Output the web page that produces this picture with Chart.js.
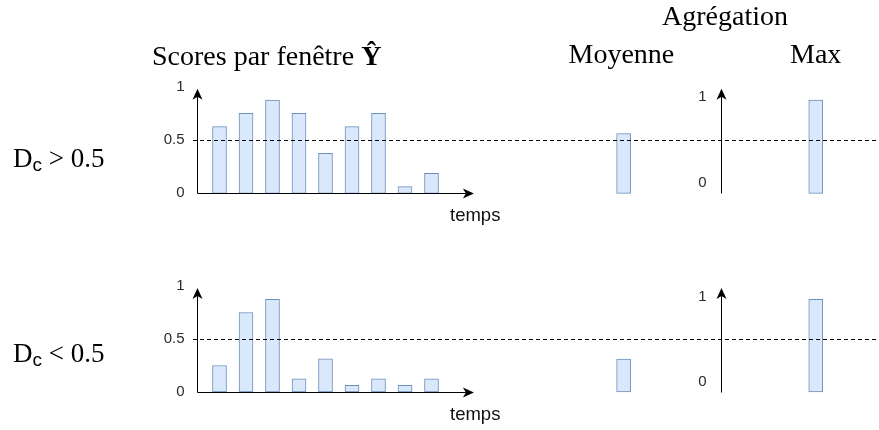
<!DOCTYPE html>
<html><head><meta charset="utf-8">
<script src="https://cdn.jsdelivr.net/npm/chart.js@4/dist/chart.umd.min.js"></script>
<style>
html,body{margin:0;padding:0;background:#fff;}
#wrap{position:relative;width:879px;height:430px;overflow:hidden;background:#fff;}
#c{position:absolute;left:0;top:0;}
.t{position:absolute;white-space:nowrap;font-family:"Liberation Serif","Times New Roman",serif;font-size:28px;line-height:28px;color:#000;}
.d{position:absolute;white-space:nowrap;font-family:"Liberation Serif","Times New Roman",serif;font-size:27px;line-height:27px;color:#000;}
.d .sub{font-family:"Liberation Sans",Arial,sans-serif;font-size:19px;position:relative;top:4px;}
.s{position:absolute;white-space:nowrap;font-family:"Liberation Sans",Arial,sans-serif;font-size:18.5px;line-height:18.5px;color:#111;}
</style></head>
<body><div id="wrap"><canvas id="c" width="879" height="430"></canvas></div>
<script>
// ---- data ----
const timeSteps = ['1','2','3','4','5','6','7','8','9'];
const windowScoresHigh = [0.625, 0.75, 0.875, 0.75, 0.375, 0.625, 0.75, 0.0625, 0.1875];
const windowScoresLow  = [0.25, 0.75, 0.875, 0.125, 0.3125, 0.0625, 0.125, 0.0625, 0.125];
const aggregations = ['Moyenne', 'Max'];
const aggHigh = [0.56, 0.875];
const aggLow  = [0.31, 0.875];
const threshold = 0.5;
const windowTickValues = [0, 0.5, 1];
const windowTickLabels = ['0', '0.5', '1'];
const aggTickLabels = ['0', '1'];
const rowLabelsOp = ['>', '<'];
const rowLabelValue = '0.5';
const titleWindows = 'Scores par fenêtre ';
const titleHat = 'Ŷ';
const titleAgg = 'Agrégation';
const timeLabel = 'temps';

// ---- layout constants ----
const WIN_AXIS_X = 0.14, TIME_TIP_X = 10.6, AGG_AXIS_X = 19.92;
const AGG_X = [16.25, 23.5];
const AXIS_TOP = 0.98;
const AGG_TICK_POS = [0.1, 0.9];

const wrap = document.getElementById('wrap');
function addText(cls, left, top, html){
  const d = document.createElement('div'); d.className = cls;
  d.style.left = left + 'px'; d.style.top = top + 'px'; d.innerHTML = html; wrap.appendChild(d);
}
addText('t', 662, 1.5, titleAgg);
addText('t', 152, 41.5, titleWindows + '<b>' + titleHat + '</b>');
addText('t', 568.5, 40, aggregations[0]);
addText('t', 790, 40, aggregations[1]);
addText('d', 13, 145, 'D<span class="sub">c</span> ' + rowLabelsOp[0] + ' ' + rowLabelValue);
addText('d', 13, 340, 'D<span class="sub">c</span> ' + rowLabelsOp[1] + ' ' + rowLabelValue);
addText('s', 450, 206, timeLabel);
addText('s', 450, 405, timeLabel);

const winPts = arr => arr.map((v, i) => ({x: i + 1, y: v}));
const aggPts = arr => arr.map((v, i) => ({x: AGG_X[i], y: v}));

const barStyle = {
  backgroundColor: '#dae8fc', borderColor: '#6c8ebf', borderWidth: 1,
  borderSkipped: false, barThickness: 14, grouped: false
};

function arrow(ctx, x1, y1, x2, y2){
  const ang = Math.atan2(y2 - y1, x2 - x1);
  const len = 11, half = 5, notch = 3;
  ctx.beginPath(); ctx.moveTo(x1, y1);
  ctx.lineTo(x2 - Math.cos(ang) * (len - notch), y2 - Math.sin(ang) * (len - notch));
  ctx.stroke();
  ctx.save(); ctx.translate(x2, y2); ctx.rotate(ang);
  ctx.beginPath(); ctx.moveTo(0, 0); ctx.lineTo(-len, -half); ctx.lineTo(-len + notch, 0); ctx.lineTo(-len, half);
  ctx.closePath(); ctx.fill(); ctx.restore();
}

const diagram = {
  id: 'diagram',
  afterDatasetsDraw(chart){
    const ctx = chart.ctx, xs = chart.scales.x;
    ['y1', 'y2'].forEach(id => {
      const ys = chart.scales[id];
      const snap = p => Math.round(p) + 0.5;
      const y0 = snap(ys.getPixelForValue(0));
      const yTop = ys.getPixelForValue(AXIS_TOP);
      const xl = snap(xs.getPixelForValue(WIN_AXIS_X));
      const xr = xs.getPixelForValue(TIME_TIP_X);
      const xa = snap(xs.getPixelForValue(AGG_AXIS_X));
      ctx.save();
      ctx.strokeStyle = '#000'; ctx.fillStyle = '#000'; ctx.lineWidth = 1;
      // threshold dashed line
      const yd = snap(ys.getPixelForValue(threshold));
      ctx.setLineDash([4, 3]);
      ctx.beginPath(); ctx.moveTo(xs.getPixelForValue(0), yd); ctx.lineTo(chart.width, yd); ctx.stroke();
      ctx.setLineDash([]);
      // axes
      arrow(ctx, xl, y0, xl, yTop);
      arrow(ctx, xl, y0, xr, y0);
      arrow(ctx, xa, y0, xa, yTop);
      // tick labels
      ctx.font = '15px "Liberation Sans", Arial, sans-serif';
      ctx.fillStyle = '#2b2b2b';
      ctx.textBaseline = 'middle';
      ctx.textAlign = 'right';
      windowTickValues.forEach((v, i) => ctx.fillText(windowTickLabels[i], xl - 13, ys.getPixelForValue(v)));
      ctx.textAlign = 'center';
      aggTickLabels.forEach((l, i) => ctx.fillText(l, xa - 19, ys.getPixelForValue(AGG_TICK_POS[i])));
      ctx.restore();
    });
  }
};

new Chart(document.getElementById('c'), {
  type: 'bar',
  data: {
    labels: timeSteps,
    datasets: [
      Object.assign({label: 'Scores (Dc > 0.5)', data: winPts(windowScoresHigh), yAxisID: 'y1'}, barStyle),
      Object.assign({label: 'Agrégation (Dc > 0.5)', data: aggPts(aggHigh), yAxisID: 'y1'}, barStyle),
      Object.assign({label: 'Scores (Dc < 0.5)', data: winPts(windowScoresLow), yAxisID: 'y2'}, barStyle),
      Object.assign({label: 'Agrégation (Dc < 0.5)', data: aggPts(aggLow), yAxisID: 'y2'}, barStyle)
    ]
  },
  options: {
    responsive: false, animation: false, events: [], devicePixelRatio: 1,
    layout: {padding: {left: 193, right: 0, top: 0, bottom: 0}},
    plugins: {legend: {display: false}, tooltip: {enabled: false}, title: {display: false}},
    scales: {
      x: {type: 'linear', min: 0, max: 25.887, offset: false, display: false},
      y1: {type: 'linear', axis: 'y', min: -2.218, max: 1.812, display: false},
      y2: {type: 'linear', axis: 'y', min: -0.3585, max: 3.698, display: false}
    }
  },
  plugins: [diagram]
});
</script>
</body></html>
